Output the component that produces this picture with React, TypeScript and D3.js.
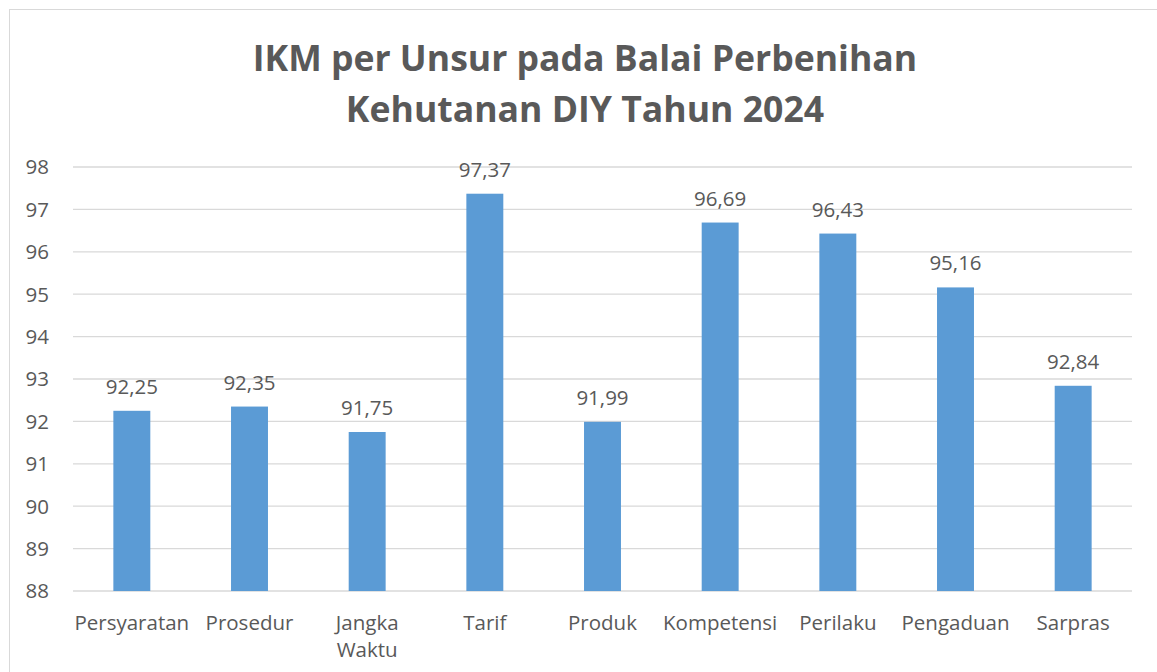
import React from "react";
import * as d3 from "d3";

const categories = ["Persyaratan", "Prosedur", "Jangka Waktu", "Tarif", "Produk", "Kompetensi", "Perilaku", "Pengaduan", "Sarpras"];
const values = [92.25, 92.35, 91.75, 97.37, 91.99, 96.69, 96.43, 95.16, 92.84];
const yTicks = [88, 89, 90, 91, 92, 93, 94, 95, 96, 97, 98];
const titleLines = ["IKM per Unsur pada Balai Perbenihan", "Kehutanan DIY Tahun 2024"];

const W = 1157, H = 672;
const left = 73, right = 1132, top = 167, bottom = 591;
const FONT = "'Open Sans', sans-serif";
const TEXT = "#595959";

export default function App() {
  const x = d3.scaleBand<string>().domain(categories).range([left, right]).paddingInner(0.686).paddingOuter(0.343);
  const y = d3.scaleLinear().domain([88, 98]).range([bottom, top]);
  const fmt = (v: number) => v.toFixed(2).replace(".", ",");
  return (
    <svg width={W} height={H} style={{ position: "absolute", left: 0, top: 0, background: "#fff" }}>
      <rect x={9.5} y={9.5} width={W + 10} height={H + 10} fill="#fff" stroke="#d9d9d9" strokeWidth={1} />
      {titleLines.map((t, i) => (
        <text key={i} x={585} y={71 + i * 51} textAnchor="middle" fontFamily={FONT} fontWeight={700} fontSize={35.6} fill={TEXT}>{t}</text>
      ))}
      {yTicks.map((t) => (
        <g key={t}>
          <line x1={left} x2={right} y1={y(t)} y2={y(t)} stroke="#d9d9d9" strokeWidth={1.3} />
          <text x={49} y={y(t)} dy="0.36em" textAnchor="end" fontFamily={FONT} fontSize={20.5} fill={TEXT}>{t}</text>
        </g>
      ))}
      {categories.map((c, i) => {
        const bx = x(c)!;
        const cx = bx + x.bandwidth() / 2;
        const words = c.split(" ");
        return (
          <g key={c}>
            <rect x={bx} y={y(values[i])} width={x.bandwidth()} height={y(88) - y(values[i])} fill="#5b9bd5" />
            <text x={cx} y={y(values[i]) - 17} textAnchor="middle" fontFamily={FONT} fontSize={20.5} fill={TEXT}>{fmt(values[i])}</text>
            {c === "Jangka Waktu" ? words.map((w, k) => (
              <text key={k} x={cx} y={630 + k * 27} textAnchor="middle" fontFamily={FONT} fontSize={20.5} fill={TEXT}>{w}</text>
            )) : (
              <text x={cx} y={630} textAnchor="middle" fontFamily={FONT} fontSize={20.5} fill={TEXT}>{c}</text>
            )}
          </g>
        );
      })}
    </svg>
  );
}
